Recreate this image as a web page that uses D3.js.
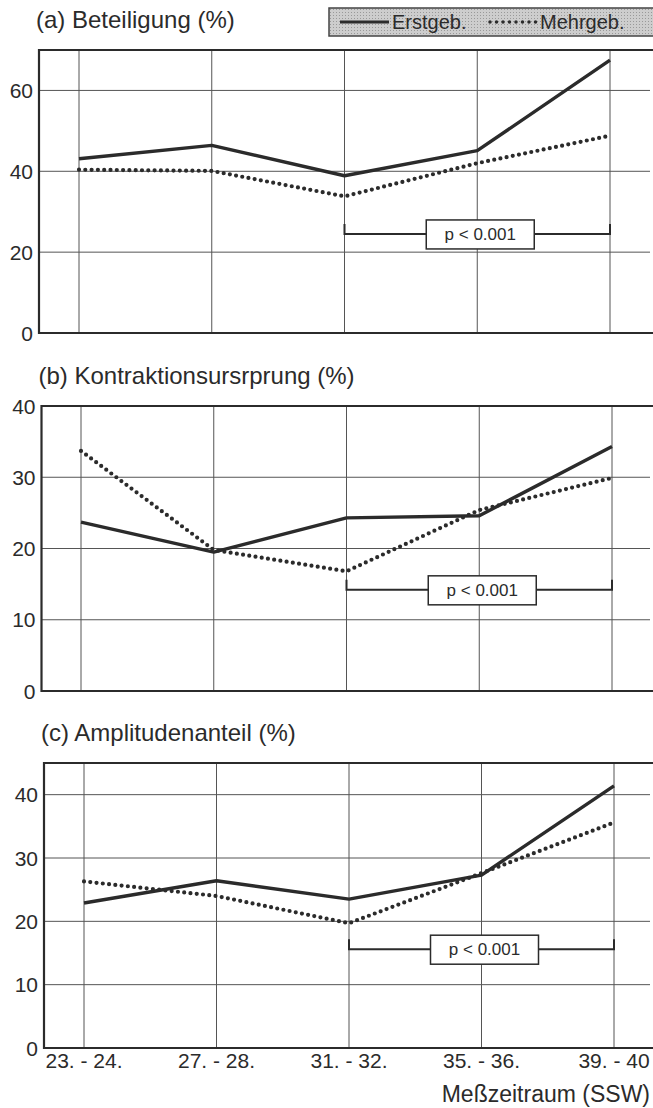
<!DOCTYPE html>
<html>
<head>
<meta charset="utf-8">
<script src="https://cdn.jsdelivr.net/npm/d3@7"></script>
<style>
  html, body { margin: 0; padding: 0; background: #fff; }
  svg { display: block; }
  text { font-family: "Liberation Sans", Arial, sans-serif; fill: #2b2b2b; }
</style>
</head>
<body>
<svg id="chart" width="653" height="1108"></svg>
<script>
// categories (measurement period, weeks of gestation)
const categories = ['23. - 24.', '27. - 28.', '31. - 32.', '35. - 36.', '39. - 40'];

// (a) Beteiligung (%)
const betErst = [43.1, 46.4, 38.9, 45.1, 67.5];
const betMehr = [40.4, 40.1, 33.8, 42.0, 48.8];
// (b) Kontraktionsursrprung (%)
const konErst = [23.7, 19.5, 24.3, 24.6, 34.3];
const konMehr = [33.7, 19.8, 16.8, 25.4, 29.9];
// (c) Amplitudenanteil (%)
const ampErst = [22.9, 26.4, 23.5, 27.3, 41.4];
const ampMehr = [26.3, 24.0, 19.7, 27.6, 35.6];

const panelTitles = ['(a) Beteiligung (%)', '(b) Kontraktionsursrprung (%)', '(c) Amplitudenanteil (%)'];
const yMax = [70, 40, 45];
const yTicks = [[0, 20, 40, 60], [0, 10, 20, 30, 40], [0, 10, 20, 30, 40]];
const bracketLevel = [24.5, 14.2, 15.6];
const bracketFrom = '31. - 32.';
const bracketTo = '39. - 40';
const pLabel = 'p < 0.001';
const seriesNames = ['Erstgeb.', 'Mehrgeb.'];
const xTitle = 'Meßzeitraum (SSW)';

// the scanned figure is slightly skewed, so each panel has its own left edge
const panels = [
  { erst: betErst, mehr: betMehr, top: 50, bottom: 333, left: 39, x0: 79, x1: 610 },
  { erst: konErst, mehr: konMehr, top: 406, bottom: 691, left: 41.5, x0: 81, x1: 612 },
  { erst: ampErst, mehr: ampMehr, top: 763, bottom: 1048, left: 44, x0: 84, x1: 614 }
];

const W = 653;
const ink = '#2b2b2b';
const svg = d3.select('#chart');

// legend box (top right, grey screened)
const defs = svg.append('defs');
const pat = defs.append('pattern')
  .attr('id', 'screen')
  .attr('width', 3).attr('height', 3)
  .attr('patternUnits', 'userSpaceOnUse');
pat.append('rect').attr('width', 3).attr('height', 3).attr('fill', '#cdcdcd');
pat.append('rect').attr('width', 1).attr('height', 1).attr('fill', '#999');

const legend = svg.append('g');
legend.append('rect')
  .attr('x', 329).attr('y', 8).attr('width', 340).attr('height', 28)
  .attr('fill', 'url(#screen)')
  .attr('stroke', '#444').attr('stroke-width', 1.5);
legend.append('line')
  .attr('x1', 340).attr('x2', 389).attr('y1', 22).attr('y2', 22)
  .attr('stroke', ink).attr('stroke-width', 3);
legend.append('text')
  .attr('x', 392).attr('y', 29).attr('font-size', 20)
  .text(seriesNames[0]);
legend.append('line')
  .attr('x1', 490).attr('x2', 536).attr('y1', 22).attr('y2', 22)
  .attr('stroke', ink).attr('stroke-width', 3.5)
  .attr('stroke-linecap', 'round').attr('stroke-dasharray', '0 6.5');
legend.append('text')
  .attr('x', 540).attr('y', 29).attr('font-size', 20)
  .text(seriesNames[1]);

panels.forEach((p, i) => {
  const g = svg.append('g');

  const x = d3.scalePoint()
    .domain(categories)
    .range([p.x0, p.x1]);

  const y = d3.scaleLinear()
    .domain([0, yMax[i]])
    .range([p.bottom, p.top]);

  // title
  g.append('text')
    .attr('x', p.left - 3).attr('y', p.top - 22)
    .attr('font-size', 24)
    .text(panelTitles[i]);

  // horizontal grid
  g.append('g')
    .selectAll('line')
    .data(yTicks[i].filter(t => t > 0 && y(t) > p.top + 2))
    .join('line')
    .attr('x1', p.left).attr('x2', W - 3)
    .attr('y1', d => y(d)).attr('y2', d => y(d))
    .attr('stroke', '#555').attr('stroke-width', 1);

  // vertical grid
  g.append('g')
    .selectAll('line')
    .data(categories)
    .join('line')
    .attr('x1', d => x(d)).attr('x2', d => x(d))
    .attr('y1', p.top).attr('y2', p.bottom)
    .attr('stroke', '#555').attr('stroke-width', 1);

  // frame: top, bottom, left
  g.append('path')
    .attr('d', `M${W},${p.top}H${p.left}V${p.bottom}H${W}`)
    .attr('fill', 'none')
    .attr('stroke', ink).attr('stroke-width', 2.2);

  // y tick labels
  g.append('g')
    .selectAll('text')
    .data(yTicks[i])
    .join('text')
    .attr('x', p.left - 6)
    .attr('y', d => y(d))
    .attr('dy', '0.36em')
    .attr('text-anchor', 'end')
    .attr('font-size', 21)
    .text(d => d);

  const line = d3.line()
    .x((d, k) => x(categories[k]))
    .y(d => y(d));

  g.append('path')
    .datum(p.erst)
    .attr('d', line)
    .attr('fill', 'none')
    .attr('stroke', ink).attr('stroke-width', 3.4)
    .attr('stroke-linejoin', 'round');

  g.append('path')
    .datum(p.mehr)
    .attr('d', line)
    .attr('fill', 'none')
    .attr('stroke', ink).attr('stroke-width', 4.2)
    .attr('stroke-linecap', 'round')
    .attr('stroke-dasharray', '0 6.3');

  // significance bracket
  const by = y(bracketLevel[i]);
  const bx1 = x(bracketFrom), bx2 = x(bracketTo);
  g.append('path')
    .attr('d', `M${bx1},${by - 10}V${by}H${bx2}V${by - 10}`)
    .attr('fill', 'none')
    .attr('stroke', ink).attr('stroke-width', 2);
  const cx = (bx1 + bx2) / 2 + 3;
  g.append('rect')
    .attr('x', cx - 54).attr('y', by - 14)
    .attr('width', 108).attr('height', 29)
    .attr('fill', '#fff')
    .attr('stroke', ink).attr('stroke-width', 1.5);
  g.append('text')
    .attr('x', cx).attr('y', by)
    .attr('dy', '0.36em')
    .attr('text-anchor', 'middle')
    .attr('font-size', 17)
    .text(pLabel);

  // x tick labels under the last panel
  if (i === panels.length - 1) {
    g.append('g')
      .selectAll('text')
      .data(categories)
      .join('text')
      .attr('x', d => x(d))
      .attr('y', p.bottom + 20)
      .attr('text-anchor', 'middle')
      .attr('font-size', 21)
      .text(d => d);

    g.append('text')
      .attr('x', W - 3).attr('y', p.bottom + 54)
      .attr('text-anchor', 'end')
      .attr('font-size', 23)
      .text(xTitle);
  }
});
</script>
</body>
</html>
